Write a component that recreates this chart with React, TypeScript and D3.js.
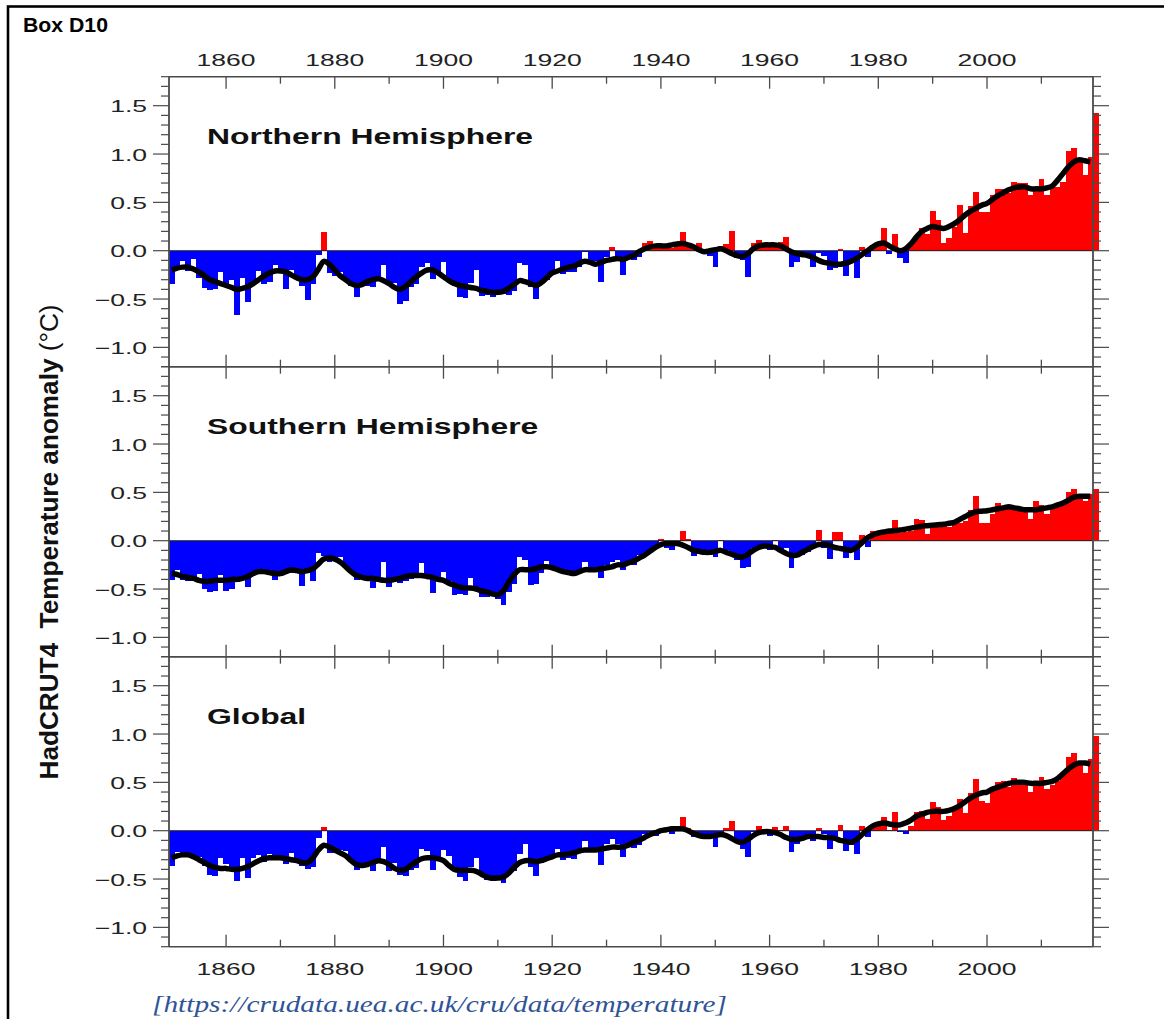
import React from "react";
import * as d3 from "d3";

// Annual HadCRUT4 temperature anomalies (°C), one value per year from 1850 to 2020
const FIRST_YEAR = 1850;

const NH_ANOMALY = [
  -0.34, -0.20, -0.11, -0.21, -0.09, -0.28, -0.39, -0.41, -0.40, -0.22,
  -0.37, -0.30, -0.67, -0.28, -0.53, -0.33, -0.21, -0.34, -0.32, -0.15,
  -0.22, -0.40, -0.20, -0.28, -0.36, -0.51, -0.34, -0.04, 0.19, -0.23,
  -0.26, -0.22, -0.29, -0.37, -0.48, -0.37, -0.36, -0.38, -0.30, -0.15,
  -0.34, -0.33, -0.55, -0.52, -0.38, -0.34, -0.17, -0.13, -0.29, -0.22,
  -0.12, -0.30, -0.37, -0.48, -0.49, -0.33, -0.20, -0.47, -0.46, -0.48,
  -0.44, -0.45, -0.46, -0.42, -0.13, -0.15, -0.38, -0.50, -0.34, -0.30,
  -0.25, -0.11, -0.24, -0.22, -0.22, -0.17, -0.01, -0.12, -0.11, -0.32,
  -0.06, 0.04, -0.08, -0.25, -0.08, -0.10, -0.06, 0.08, 0.10, 0.06,
  0.04, 0.06, 0.03, 0.05, 0.19, 0.04, 0.03, 0.08, 0.02, -0.05,
  -0.17, 0.05, 0.07, 0.20, -0.08, -0.10, -0.27, 0.08, 0.11, 0.06,
  0.06, 0.07, 0.09, 0.14, -0.17, -0.12, -0.04, -0.03, -0.17, -0.02,
  -0.05, -0.20, -0.18, 0.02, -0.26, -0.10, -0.28, 0.04, -0.07, 0.06,
  0.08, 0.23, -0.03, 0.17, -0.08, -0.13, 0.06, 0.14, 0.23, 0.17,
  0.41, 0.32, 0.08, 0.13, 0.25, 0.47, 0.18, 0.46, 0.61, 0.40,
  0.40, 0.58, 0.64, 0.64, 0.60, 0.71, 0.70, 0.70, 0.58, 0.62,
  0.74, 0.58, 0.66, 0.66, 0.71, 1.03, 1.06, 0.94, 0.78, 0.97,
  1.42,
];

const SH_ANOMALY = [
  -0.41, -0.30, -0.41, -0.42, -0.42, -0.34, -0.50, -0.53, -0.52, -0.35,
  -0.52, -0.50, -0.43, -0.40, -0.48, -0.34, -0.33, -0.30, -0.34, -0.41,
  -0.33, -0.30, -0.33, -0.31, -0.47, -0.33, -0.42, -0.13, -0.16, -0.22,
  -0.19, -0.17, -0.27, -0.33, -0.41, -0.38, -0.37, -0.49, -0.42, -0.22,
  -0.48, -0.38, -0.44, -0.42, -0.40, -0.38, -0.23, -0.35, -0.54, -0.39,
  -0.32, -0.42, -0.56, -0.55, -0.56, -0.39, -0.52, -0.58, -0.58, -0.57,
  -0.60, -0.67, -0.53, -0.45, -0.17, -0.20, -0.46, -0.45, -0.33, -0.21,
  -0.28, -0.30, -0.33, -0.33, -0.35, -0.30, -0.22, -0.31, -0.30, -0.39,
  -0.25, -0.22, -0.20, -0.30, -0.25, -0.25, -0.15, -0.13, -0.12, -0.08,
  0.02, -0.08, -0.10, -0.05, 0.10, 0.02, -0.16, -0.13, -0.12, -0.10,
  -0.17, 0.01, -0.10, -0.12, -0.20, -0.28, -0.27, -0.08, -0.05, -0.06,
  -0.10, 0.01, -0.10, -0.08, -0.28, -0.15, -0.15, -0.12, -0.05, 0.11,
  -0.08, -0.19, 0.09, 0.09, -0.18, -0.10, -0.20, 0.06, -0.06, 0.10,
  0.10, 0.09, 0.08, 0.21, 0.08, 0.09, 0.10, 0.22, 0.21, 0.07,
  0.18, 0.18, 0.15, 0.14, 0.19, 0.18, 0.20, 0.32, 0.46, 0.18,
  0.18, 0.28, 0.39, 0.36, 0.35, 0.36, 0.32, 0.32, 0.22, 0.41,
  0.37, 0.28, 0.35, 0.37, 0.40, 0.50, 0.53, 0.45, 0.41, 0.48,
  0.53,
];

const GLOBAL_ANOMALY = [
  -0.37, -0.22, -0.23, -0.27, -0.25, -0.27, -0.36, -0.46, -0.47, -0.28,
  -0.34, -0.41, -0.52, -0.28, -0.49, -0.28, -0.25, -0.32, -0.24, -0.26,
  -0.28, -0.34, -0.23, -0.30, -0.37, -0.40, -0.38, -0.08, 0.04, -0.23,
  -0.23, -0.20, -0.21, -0.30, -0.41, -0.39, -0.37, -0.42, -0.31, -0.17,
  -0.42, -0.33, -0.46, -0.47, -0.41, -0.39, -0.19, -0.21, -0.41, -0.29,
  -0.20, -0.26, -0.40, -0.48, -0.52, -0.38, -0.28, -0.47, -0.51, -0.52,
  -0.49, -0.54, -0.44, -0.42, -0.24, -0.14, -0.38, -0.47, -0.33, -0.28,
  -0.25, -0.19, -0.30, -0.28, -0.29, -0.22, -0.11, -0.21, -0.21, -0.35,
  -0.14, -0.09, -0.14, -0.27, -0.13, -0.18, -0.15, -0.03, -0.01, -0.05,
  0.01, 0.02, -0.03, 0.00, 0.14, 0.03, -0.07, -0.04, -0.04, -0.07,
  -0.17, -0.05, 0.03, 0.10, -0.13, -0.19, -0.27, -0.01, 0.05, 0.02,
  -0.05, 0.04, 0.01, 0.05, -0.22, -0.14, -0.07, -0.07, -0.11, 0.03,
  -0.03, -0.19, -0.07, 0.06, -0.21, -0.15, -0.24, 0.05, -0.06, 0.06,
  0.09, 0.14, 0.01, 0.19, -0.01, -0.03, 0.05, 0.19, 0.20, 0.12,
  0.30, 0.25, 0.11, 0.15, 0.21, 0.33, 0.18, 0.39, 0.54, 0.31,
  0.29, 0.44, 0.50, 0.51, 0.45, 0.55, 0.51, 0.49, 0.40, 0.51,
  0.56, 0.43, 0.47, 0.51, 0.58, 0.76, 0.80, 0.68, 0.60, 0.74,
  0.98,
];

// Smoothed curves, one value per year from 1850 to 2019
const NH_SMOOTH = [
  -0.20, -0.18, -0.17, -0.17, -0.19, -0.22, -0.26, -0.30, -0.32, -0.34,
  -0.36, -0.38, -0.40, -0.39, -0.37, -0.34, -0.30, -0.26, -0.23, -0.21,
  -0.21, -0.22, -0.25, -0.28, -0.30, -0.30, -0.27, -0.19, -0.11, -0.14,
  -0.20, -0.26, -0.30, -0.34, -0.36, -0.35, -0.32, -0.30, -0.29, -0.31,
  -0.34, -0.38, -0.40, -0.37, -0.32, -0.27, -0.23, -0.20, -0.20, -0.23,
  -0.27, -0.31, -0.34, -0.36, -0.37, -0.38, -0.39, -0.41, -0.42, -0.43,
  -0.43, -0.42, -0.39, -0.35, -0.31, -0.32, -0.34, -0.36, -0.33, -0.28,
  -0.23, -0.21, -0.19, -0.17, -0.16, -0.13, -0.11, -0.12, -0.14, -0.12,
  -0.10, -0.09, -0.08, -0.09, -0.07, -0.05, -0.01, 0.02, 0.04, 0.05,
  0.05, 0.05, 0.06, 0.07, 0.075, 0.06, 0.04, 0.01, -0.01, 0.00,
  0.01, 0.02, 0.00, -0.03, -0.05, -0.06, -0.03, 0.02, 0.05, 0.06,
  0.06, 0.06, 0.05, 0.02, -0.01, -0.03, -0.04, -0.05, -0.07, -0.10,
  -0.12, -0.13, -0.14, -0.14, -0.13, -0.11, -0.08, -0.04, 0.00, 0.04,
  0.07, 0.08, 0.05, 0.02, 0.00, 0.02, 0.07, 0.14, 0.20, 0.23,
  0.25, 0.24, 0.23, 0.25, 0.28, 0.32, 0.37, 0.41, 0.44, 0.47,
  0.49, 0.53, 0.57, 0.60, 0.63, 0.65, 0.66, 0.66, 0.64, 0.64,
  0.64, 0.65, 0.67, 0.73, 0.80, 0.87, 0.92, 0.94, 0.93, 0.92,
];

const SH_SMOOTH = [
  -0.34, -0.35, -0.37, -0.38, -0.39, -0.41, -0.42, -0.42, -0.41, -0.41,
  -0.41, -0.40, -0.40, -0.39, -0.37, -0.34, -0.32, -0.32, -0.33, -0.34,
  -0.34, -0.32, -0.30, -0.31, -0.32, -0.31, -0.29, -0.24, -0.19, -0.18,
  -0.19, -0.22, -0.27, -0.32, -0.36, -0.38, -0.39, -0.39, -0.40, -0.41,
  -0.41, -0.40, -0.39, -0.37, -0.36, -0.36, -0.36, -0.37, -0.38, -0.40,
  -0.41, -0.44, -0.46, -0.48, -0.49, -0.49, -0.50, -0.52, -0.53, -0.55,
  -0.56, -0.52, -0.43, -0.35, -0.30, -0.30, -0.30, -0.29, -0.27, -0.27,
  -0.28, -0.30, -0.32, -0.33, -0.34, -0.32, -0.30, -0.30, -0.30, -0.29,
  -0.28, -0.27, -0.25, -0.25, -0.23, -0.21, -0.18, -0.15, -0.11, -0.07,
  -0.04, -0.03, -0.03, -0.03, -0.045, -0.07, -0.10, -0.11, -0.12, -0.12,
  -0.11, -0.10, -0.12, -0.14, -0.16, -0.17, -0.14, -0.10, -0.07, -0.055,
  -0.06, -0.07, -0.10, -0.13, -0.15, -0.15, -0.12, -0.09, -0.06, -0.04,
  -0.04, -0.05, -0.07, -0.08, -0.09, -0.10, -0.07, -0.02, 0.03, 0.06,
  0.08, 0.09, 0.10, 0.105, 0.11, 0.12, 0.13, 0.14, 0.15, 0.155,
  0.16, 0.165, 0.17, 0.18, 0.19, 0.22, 0.25, 0.28, 0.30, 0.305,
  0.31, 0.32, 0.33, 0.34, 0.35, 0.34, 0.33, 0.32, 0.32, 0.32,
  0.33, 0.34, 0.35, 0.37, 0.39, 0.42, 0.45, 0.46, 0.46, 0.46,
];

const GLOBAL_SMOOTH = [
  -0.28, -0.26, -0.25, -0.25, -0.27, -0.30, -0.33, -0.36, -0.38, -0.39,
  -0.39, -0.40, -0.40, -0.39, -0.37, -0.34, -0.31, -0.29, -0.28, -0.28,
  -0.28, -0.29, -0.30, -0.31, -0.33, -0.33, -0.28, -0.20, -0.15, -0.17,
  -0.20, -0.23, -0.26, -0.31, -0.35, -0.36, -0.35, -0.33, -0.31, -0.32,
  -0.35, -0.39, -0.41, -0.40, -0.36, -0.32, -0.29, -0.28, -0.28, -0.29,
  -0.31, -0.36, -0.40, -0.41, -0.41, -0.41, -0.42, -0.45, -0.48, -0.49,
  -0.49, -0.48, -0.44, -0.38, -0.33, -0.31, -0.31, -0.32, -0.31, -0.29,
  -0.27, -0.25, -0.25, -0.24, -0.23, -0.21, -0.20, -0.20, -0.20, -0.19,
  -0.18, -0.17, -0.17, -0.17, -0.15, -0.12, -0.10, -0.07, -0.04, -0.02,
  0.00, 0.01, 0.02, 0.02, 0.02, 0.00, -0.03, -0.05, -0.06, -0.06,
  -0.05, -0.04, -0.05, -0.08, -0.11, -0.12, -0.09, -0.05, -0.02, -0.01,
  -0.01, -0.02, -0.04, -0.07, -0.09, -0.09, -0.08, -0.06, -0.06, -0.06,
  -0.07, -0.07, -0.08, -0.10, -0.11, -0.12, -0.09, -0.04, 0.01, 0.05,
  0.07, 0.08, 0.07, 0.06, 0.06, 0.08, 0.11, 0.15, 0.17, 0.19,
  0.20, 0.20, 0.20, 0.21, 0.23, 0.26, 0.30, 0.34, 0.37, 0.39,
  0.40, 0.43, 0.45, 0.47, 0.49, 0.50, 0.50, 0.50, 0.49, 0.49,
  0.49, 0.50, 0.51, 0.54, 0.59, 0.64, 0.68, 0.70, 0.70, 0.69,
];

const PANEL_TITLES = ["Northern Hemisphere", "Southern Hemisphere", "Global"];
const PANEL_ANOMALIES = [NH_ANOMALY, SH_ANOMALY, GLOBAL_ANOMALY];
const PANEL_SMOOTHS = [NH_SMOOTH, SH_SMOOTH, GLOBAL_SMOOTH];

const X_TICK_LABELS = [1860, 1880, 1900, 1920, 1940, 1960, 1980, 2000];
const X_MINOR_TICKS = [1870, 1890, 1910, 1930, 1950, 1970, 1990, 2010];
const Y_TICK_LABELS = [1.5, 1.0, 0.5, 0.0, -0.5, -1.0];

const BOX_LABEL = "Box D10";
const Y_TITLE_MAIN = "HadCRUT4  Temperature anomaly ";
const Y_TITLE_UNIT = "(°C)";
const SOURCE_NOTE = "[https://crudata.uea.ac.uk/cru/data/temperature]";

// Layout
const WIDTH = 1164;
const HEIGHT = 1019;
const PLOT_LEFT = 169;
const PLOT_RIGHT = 1093;
const PLOT_TOP = 76.7;
const PANEL_HEIGHT = 290;
const Y_DOMAIN: [number, number] = [-1.2, 1.8];

const SANS = "'Liberation Sans', Arial, Helvetica, sans-serif";
const AXIS_COLOR = "#4a4a4a";
const LABEL_COLOR = "#222";
const WIDE = 1.56; // horizontal glyph stretch of the plot lettering

const x = d3.scaleLinear().domain([1849.5, 2019.5]).range([PLOT_LEFT, PLOT_RIGHT]);
const fmtY = d3.format(".1f");

function Panel({ index }: { index: number }) {
  const top = PLOT_TOP + index * PANEL_HEIGHT;
  const bottom = top + PANEL_HEIGHT;
  const y = d3.scaleLinear().domain(Y_DOMAIN).range([bottom, top]);
  const anomalies = PANEL_ANOMALIES[index];
  const smooth = PANEL_SMOOTHS[index];
  const line = d3
    .line<number>()
    .x((_, i) => x(FIRST_YEAR + i))
    .y((v) => y(v))
    .curve(d3.curveCatmullRom.alpha(0.5));

  const yTicks = d3.range(-12, 19).map((k) => k / 10);

  return (
    <g>
      {/* annual bars */}
      <g shapeRendering="crispEdges">
        {anomalies.map((v, i) => {
          const yr = FIRST_YEAR + i;
          const x0 = x(yr - 0.5);
          const x1 = x(yr + 0.5);
          const y0 = y(0);
          const yv = y(v);
          return (
            <rect
              key={yr}
              x={x0}
              width={x1 - x0 + 0.4}
              y={Math.min(y0, yv)}
              height={Math.abs(yv - y0)}
              fill={v >= 0 ? "#ff0000" : "#0000ff"}
            />
          );
        })}
      </g>
      {/* zero line */}
      <line x1={PLOT_LEFT} x2={PLOT_RIGHT} y1={y(0)} y2={y(0)} stroke="#222" strokeWidth={1} />
      {/* smoothed curve */}
      <path
        d={line(smooth) || ""}
        fill="none"
        stroke="#000"
        strokeWidth={5.5}
        strokeLinejoin="round"
        strokeLinecap="butt"
      />
      {/* y ticks, left and right */}
      {yTicks.map((t) => {
        const major = Math.abs((t * 10) % 5) < 1e-6;
        const len = major ? 16 : 8;
        return (
          <g key={t}>
            <line x1={PLOT_LEFT - len} x2={PLOT_LEFT} y1={y(t)} y2={y(t)} stroke={AXIS_COLOR} strokeWidth={1.2} />
            <line x1={PLOT_RIGHT} x2={PLOT_RIGHT + len} y1={y(t)} y2={y(t)} stroke={AXIS_COLOR} strokeWidth={1.2} />
          </g>
        );
      })}
      {/* y tick labels */}
      {Y_TICK_LABELS.map((t) => (
        <text
          key={t}
          transform={`translate(${PLOT_LEFT - 22},${y(t) + 6.5}) scale(${WIDE},1)`}
          textAnchor="end"
          fontFamily={SANS}
          fontSize={17}
          fill={LABEL_COLOR}
        >
          {fmtY(t)}
        </text>
      ))}
      {/* x ticks pointing inward from both horizontal edges */}
      {[...X_TICK_LABELS, ...X_MINOR_TICKS].map((yr) => {
        const len = X_TICK_LABELS.includes(yr) ? 12 : 7;
        return (
          <g key={yr}>
            <line x1={x(yr)} x2={x(yr)} y1={top} y2={top + len} stroke={AXIS_COLOR} strokeWidth={1.3} />
            <line x1={x(yr)} x2={x(yr)} y1={bottom - len} y2={bottom} stroke={AXIS_COLOR} strokeWidth={1.3} />
          </g>
        );
      })}
      {/* panel frame */}
      <line x1={PLOT_LEFT} x2={PLOT_RIGHT} y1={top} y2={top} stroke={AXIS_COLOR} strokeWidth={1.5} />
      <line x1={PLOT_LEFT} x2={PLOT_RIGHT} y1={bottom} y2={bottom} stroke={AXIS_COLOR} strokeWidth={1.5} />
      <line x1={PLOT_LEFT} x2={PLOT_LEFT} y1={top} y2={bottom} stroke={AXIS_COLOR} strokeWidth={1.8} />
      <line x1={PLOT_RIGHT} x2={PLOT_RIGHT} y1={top} y2={bottom} stroke={AXIS_COLOR} strokeWidth={1.8} />
      {/* panel title */}
      <text
        transform={`translate(${207},${top + 67.3}) scale(1.45,1)`}
        fontFamily={SANS}
        fontWeight="bold"
        fontSize={22}
        fill="#111"
      >
        {PANEL_TITLES[index]}
      </text>
    </g>
  );
}

export default function App() {
  const plotBottom = PLOT_TOP + 3 * PANEL_HEIGHT;
  return (
    <svg
      width={WIDTH}
      height={HEIGHT}
      viewBox={`0 0 ${WIDTH} ${HEIGHT}`}
      style={{ position: "absolute", left: 0, top: 0, background: "#fff" }}
    >
      <rect x={0} y={0} width={WIDTH} height={HEIGHT} fill="#fff" />
      {/* enclosing box */}
      <rect x={8} y={6.5} width={WIDTH + 40} height={HEIGHT + 40} fill="none" stroke="#000" strokeWidth={2.6} />
      <text x={23} y={32} fontFamily={SANS} fontWeight="bold" fontSize={21} textLength={85} lengthAdjust="spacingAndGlyphs" fill="#000">
        {BOX_LABEL}
      </text>

      {PANEL_TITLES.map((_, i) => (
        <Panel key={i} index={i} />
      ))}

      {/* year labels above and below */}
      {X_TICK_LABELS.map((yr) => (
        <g key={yr}>
          <text
            transform={`translate(${x(yr)},${66}) scale(${WIDE},1)`}
            textAnchor="middle"
            fontFamily={SANS}
            fontSize={17}
            fill={LABEL_COLOR}
          >
            {yr}
          </text>
          <text
            transform={`translate(${x(yr)},${plotBottom + 28}) scale(${WIDE},1)`}
            textAnchor="middle"
            fontFamily={SANS}
            fontSize={17}
            fill={LABEL_COLOR}
          >
            {yr}
          </text>
        </g>
      ))}

      {/* vertical axis title */}
      <text
        transform={`translate(${58},${542}) rotate(-90)`}
        textAnchor="middle"
        fontFamily={SANS}
        fontSize={25}
        fill="#111"
        textLength={475}
        lengthAdjust="spacingAndGlyphs"
        style={{ whiteSpace: "pre" }}
      >
        <tspan fontWeight="bold">{Y_TITLE_MAIN}</tspan>
        <tspan>{Y_TITLE_UNIT}</tspan>
      </text>

      {/* source note */}
      <text
        x={152}
        y={1012}
        fontFamily="'Liberation Serif', 'Times New Roman', serif"
        fontStyle="italic"
        fontSize={24}
        fill="#2f5496"
        textLength={575}
        lengthAdjust="spacingAndGlyphs"
      >
        {SOURCE_NOTE}
      </text>
    </svg>
  );
}
